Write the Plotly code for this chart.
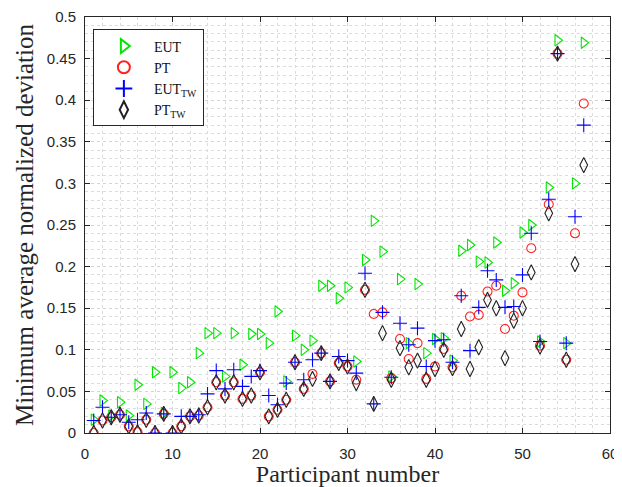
import plotly.graph_objects as go

participants = list(range(1, 58))

eut = [0.016, 0.039, 0.021, 0.037, 0.021, 0.058, 0.035, 0.073, 0.024, 0.073,
       0.054, 0.061, 0.096, 0.120, 0.120, 0.068, 0.120, 0.082, 0.119, 0.119,
       0.108, 0.146, 0.062, 0.117, 0.100, 0.111, 0.177, 0.177, 0.162, 0.175,
       0.086, 0.208, 0.255, 0.218, 0.068, 0.185, 0.108, 0.179, 0.096, 0.113,
       0.114, 0.087, 0.219, 0.226, 0.206, 0.205, 0.229, 0.171, 0.180, 0.241,
       0.250, 0.110, 0.295, 0.472, 0.108, 0.300, 0.469]

pt = [0.000, 0.015, 0.019, 0.022, 0.008, 0.001, 0.016, 0.000, 0.023, 0.000,
      0.008, 0.020, 0.021, 0.031, 0.061, 0.045, 0.061, 0.041, 0.045, 0.073,
      0.020, 0.028, 0.040, 0.085, 0.053, 0.071, 0.096, 0.062, 0.084, 0.080,
      0.064, 0.172, 0.143, 0.145, 0.066, 0.113, 0.089, 0.108, 0.065, 0.080,
      0.101, 0.079, 0.165, 0.140, 0.142, 0.170, 0.177, 0.125, 0.141, 0.169,
      0.222, 0.105, 0.275, 0.456, 0.088, 0.240, 0.396]

eut_tw = [0.015, 0.031, 0.019, 0.022, 0.013, 0.016, 0.024, 0.000, 0.023, 0.000,
          0.020, 0.020, 0.022, 0.047, 0.075, 0.053, 0.076, 0.056, 0.068, 0.075,
          0.045, 0.034, 0.060, 0.085, 0.064, 0.088, 0.096, 0.062, 0.092, 0.087,
          0.072, 0.192, 0.035, 0.145, 0.067, 0.132, 0.106, 0.126, 0.080, 0.111,
          0.112, 0.085, 0.165, 0.099, 0.151, 0.195, 0.184, 0.151, 0.152, 0.190,
          0.240, 0.110, 0.281, 0.456, 0.108, 0.260, 0.370]

pt_tw = [0.000, 0.015, 0.019, 0.022, 0.008, 0.001, 0.016, 0.000, 0.023, 0.000,
         0.008, 0.020, 0.021, 0.031, 0.061, 0.045, 0.061, 0.041, 0.045, 0.073,
         0.020, 0.028, 0.040, 0.085, 0.053, 0.065, 0.096, 0.062, 0.084, 0.080,
         0.060, 0.172, 0.035, 0.120, 0.064, 0.102, 0.079, 0.087, 0.064, 0.077,
         0.100, 0.078, 0.125, 0.077, 0.103, 0.160, 0.150, 0.090, 0.135, 0.150,
         0.193, 0.104, 0.264, 0.456, 0.088, 0.203, 0.322]

x_ticks = [0, 10, 20, 30, 40, 50, 60]
y_ticks = [0, 0.05, 0.1, 0.15, 0.2, 0.25, 0.3, 0.35, 0.4, 0.45, 0.5]
y_tick_labels = ["0", "0.05", "0.1", "0.15", "0.2", "0.25", "0.3", "0.35", "0.4", "0.45", "0.5"]

series = [
    ("EUT", eut, "triangle-right-open", "#00e600", 10),
    ("PT", pt, "circle-open", "#ff2020", 9),
    ("EUT<sub>TW</sub>", eut_tw, "cross-thin-open", "#0000ff", 10),
    ("PT<sub>TW</sub>", pt_tw, "diamond-tall-open", "#222222", 11),
]

fig = go.Figure()
for name, vals, sym, col, sz in series:
    fig.add_trace(go.Scatter(
        x=participants, y=vals, mode="markers", name=name,
        marker=dict(symbol=sym, size=sz, color=col, line=dict(width=1.1, color=col)),
    ))

axis_common = dict(
    showline=True, linecolor="#262626", linewidth=1, mirror="ticks",
    ticks="inside", ticklen=5, tickcolor="#262626",
    showgrid=True, gridcolor="#d4d4d4", griddash="dot", gridwidth=1,
    zeroline=False,
    tickfont=dict(family="Liberation Sans, Arial", size=15, color="#262626"),
)

fig.update_xaxes(
    range=[0, 60], tickvals=x_ticks,
    minor=dict(dtick=2, showgrid=True, gridcolor="#dcdcdc", griddash="dot", ticks=""),
    title=dict(text="Participant number", font=dict(family="Liberation Serif, Times New Roman", size=24, color="#262626"), standoff=4),
    ticklabelstandoff=7,
    **axis_common,
)
fig.update_yaxes(
    range=[0, 0.5], tickvals=y_ticks, ticktext=y_tick_labels,
    minor=dict(dtick=0.01, showgrid=True, gridcolor="#dcdcdc", griddash="dot", ticks=""),
    title=dict(text="Minimum average normalized deviation", font=dict(family="Liberation Serif, Times New Roman", size=25, color="#262626"), standoff=6),
    ticklabelstandoff=5,
    **axis_common,
)

fig.update_layout(
    width=614, height=479,
    margin=dict(l=77, r=12, t=9, b=54, autoexpand=False),
    plot_bgcolor="white", paper_bgcolor="white",
    showlegend=True,
    legend=dict(
        x=0.015, y=0.97, xanchor="left", yanchor="top",
        bgcolor="white", bordercolor="#262626", borderwidth=1,
        font=dict(family="Liberation Serif, Times New Roman", size=14, color="#111111"),
        tracegroupgap=0, itemsizing="constant", itemwidth=50,
    ),
)

fig.write_html("out.html")
